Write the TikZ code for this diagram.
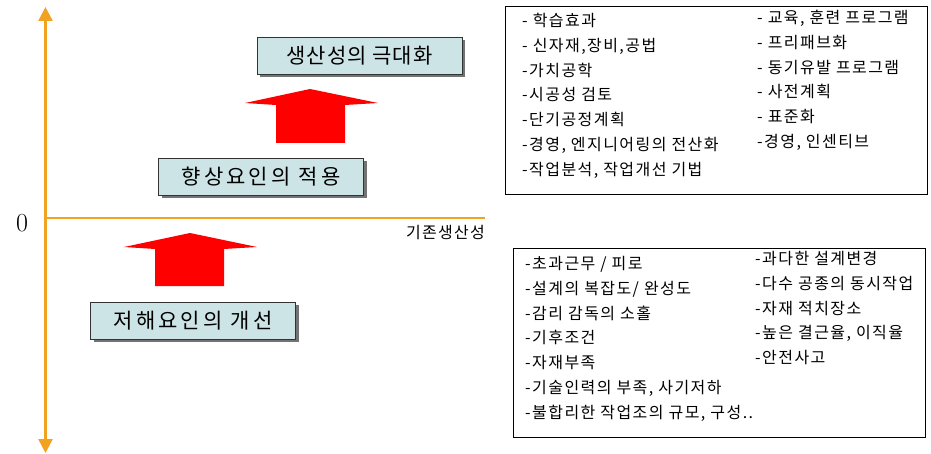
\documentclass[tikz,border=0pt]{standalone}
\usepackage{fontspec}
\usepackage{tikz}
\usetikzlibrary{arrows.meta,shadows}
\newfontfamily\krfont{Noto Sans CJK KR}
\definecolor{axisorange}{RGB}{240,162,32}
\definecolor{boxteal}{RGB}{204,228,230}
\tikzset{
  axisline/.style={draw=axisorange, line width=2.6pt},
  goalbox/.style={draw=black!80, fill=boxteal, line width=0.7pt, minimum width=205pt, minimum height=37pt, inner sep=0pt, font=\krfont\fontsize{21}{21}\selectfont, drop shadow={shadow xshift=3pt, shadow yshift=-3pt, fill=black!55, opacity=1}},
  listbox/.style={draw=black, line width=0.8pt, inner sep=0pt},
  listcol/.style={anchor=north west, inner sep=0pt, align=left, font=\krfont\fontsize{16}{24.8}\selectfont\addfontfeature{LetterSpace=9}},
  uparrow/.style={fill=red}
}
\begin{document}
\begin{tikzpicture}[x=1pt,y=1pt,yscale=-1,xscale=1]
\useasboundingbox (0,0) rectangle (931,454);

%Axes
\draw [axisline, {Triangle[width=14pt,length=14pt]}-{Triangle[width=14pt,length=14pt]}] (45.5,7) -- (45.5,453) ;
\draw [axisline] (45.5,218) -- (485,218) ;
% Text Node
\node (zero) at (22,223) {\fontsize{26}{26}\selectfont 0};
% Text Node
\node [anchor=east, inner sep=0pt, font=\krfont\fontsize{16}{16}\selectfont] (base) at (485,233) {\addfontfeature{LetterSpace=8}기존생산성};

%Shape: Boxes
\node [goalbox] (maxbox) at (359.5,55.5) {\addfontfeature{LetterSpace=5}생산성의 극대화};
\node [goalbox] (applybox) at (261,176.5) {\addfontfeature{LetterSpace=15}향상요인의 적용};
\node [goalbox] (fixbox) at (193,320.5) {\addfontfeature{LetterSpace=15}저해요인의 개선};

%Shape: Up Arrows
\fill [uparrow] (276,143) -- (276,105) -- (245,103) -- (310,89) -- (378,103) -- (345,105) -- (345,143) -- cycle ;
\fill [uparrow] (155,286) -- (155,249) -- (124,247) -- (190,233) -- (257,247) -- (224,249) -- (224,286) -- cycle ;

%Shape: List Boxes
\node [listbox, minimum width=422pt, minimum height=188pt] (upbox) at (716,100) {};
\node [listbox, minimum width=412pt, minimum height=189pt] (downbox) at (719,342.5) {};

% Text Node
\node [listcol] (upleft) at (522,13) {- 학습효과\\- 신자재,장비,공법\\-가치공학\\-시공성 검토\\-단기공정계획\\-경영, 엔지니어링의 전산화\\-작업분석, 작업개선 기법};
% Text Node
\node [listcol] (upright) at (757,10) {- 교육, 훈련 프로그램\\- 프리패브화\\- 동기유발 프로그램\\- 사전계획\\- 표준화\\-경영, 인센티브};
% Text Node
\node [listcol] (downleft) at (525,256) {-초과근무 / 피로\\-설계의 복잡도/ 완성도\\-감리 감독의 소홀\\-기후조건\\-자재부족\\-기술인력의 부족, 사기저하\\-불합리한 작업조의 규모, 구성..};
% Text Node
\node [listcol] (downright) at (755,251) {-과다한 설계변경\\-다수 공종의 동시작업\\-자재 적치장소\\-높은 결근율, 이직율\\-안전사고};

\end{tikzpicture}
\end{document}
